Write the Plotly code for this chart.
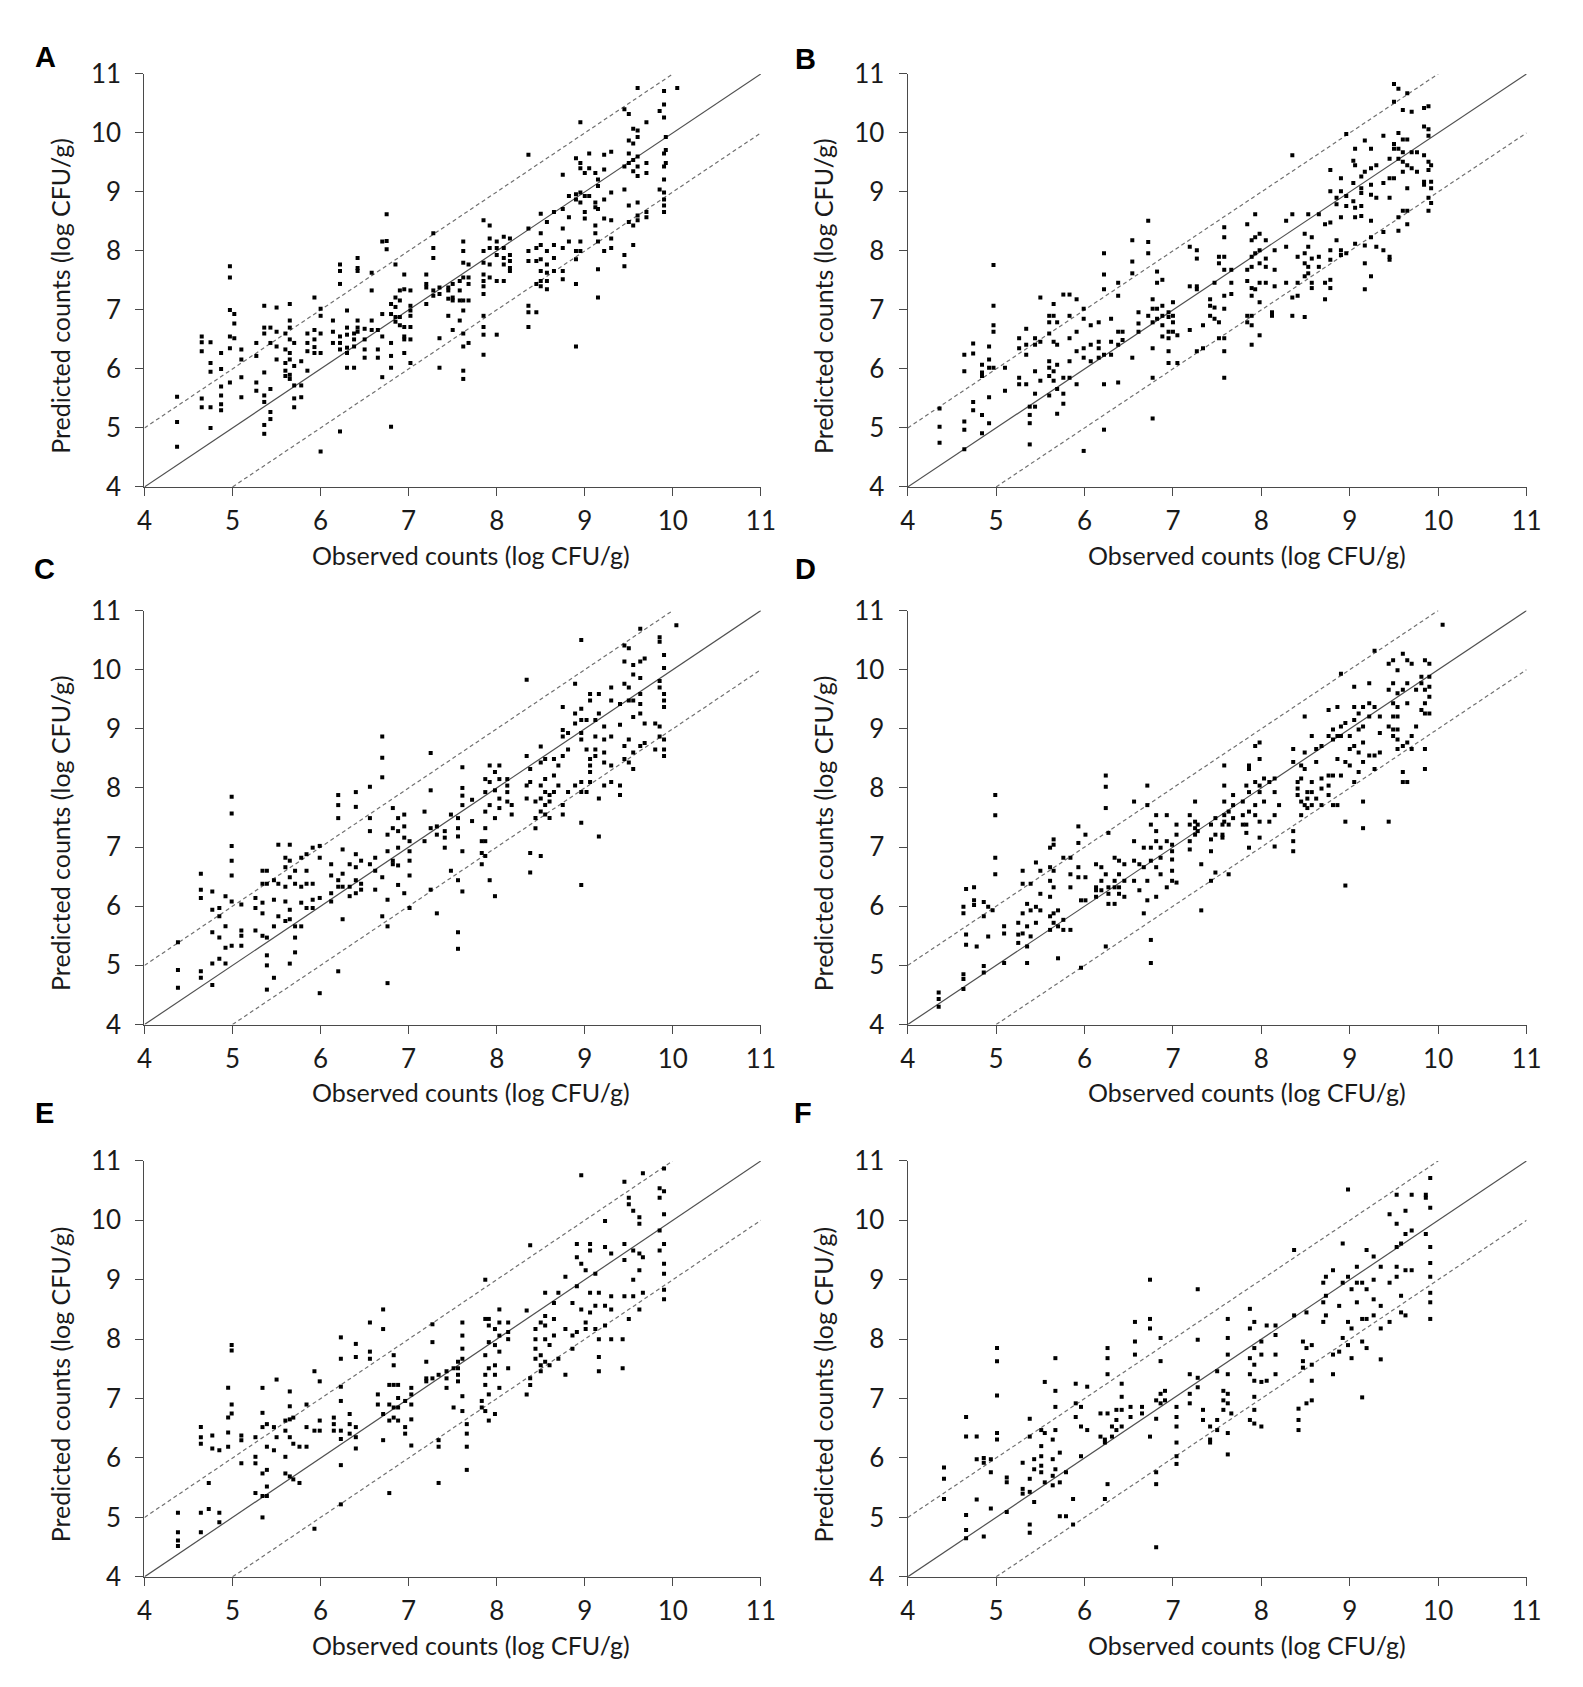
import plotly.graph_objects as go

# observed count (log CFU/g) -> predicted counts at that observed value, per panel
panel_a = [
    (4.37, [5.53, 5.1, 4.68]), (4.65, [6.55, 6.45, 6.3, 5.5, 5.35]),
    (4.75, [6.45, 6.1, 5.95, 5.35, 5.0]), (4.87, [6.27, 6.0, 5.7, 5.55, 5.4, 5.3]),
    (4.97, [7.74, 7.55, 7.0, 6.55, 6.35, 5.77]), (5.02, [6.93, 6.77, 6.52]),
    (5.1, [6.33, 6.16, 5.86, 5.52]), (5.27, [6.44, 6.22, 5.77, 5.63]),
    (5.36, [7.07, 6.7, 6.6, 5.94, 5.55, 5.44, 5.05, 4.9]), (5.43, [6.7, 6.44, 5.66, 5.27, 5.15]),
    (5.5, [7.04, 6.63, 6.38, 6.16]), (5.6, [6.6, 6.33, 6.1, 5.97, 5.88]),
    (5.65, [7.1, 6.82, 6.7, 6.5, 6.27, 6.16, 5.9, 5.83]), (5.7, [6.44, 6.05, 5.72, 5.5, 5.35]),
    (5.78, [6.13, 5.72, 5.52]), (5.85, [6.6, 6.44, 6.3, 5.97]),
    (5.93, [7.21, 6.66, 6.5, 6.37, 6.27]), (6.0, [7.02, 6.9, 6.6, 6.27, 4.6]),
    (6.14, [6.82, 6.63, 6.44]), (6.22, [7.77, 7.66, 7.44, 6.55, 6.44, 6.33, 4.94]),
    (6.3, [6.99, 6.7, 6.58, 6.36, 6.27, 6.02]), (6.38, [6.6, 6.5, 6.38, 6.02]),
    (6.42, [7.88, 7.71, 7.66, 6.82, 6.7, 6.63]), (6.5, [6.68, 6.5, 6.33, 6.19]),
    (6.58, [7.63, 7.33, 6.82, 6.66]), (6.65, [6.66, 6.33, 6.19]),
    (6.7, [8.16, 6.93, 6.55, 5.86]), (6.75, [8.62, 8.17, 8.03]),
    (6.8, [7.1, 6.93, 6.44, 6.22, 6.02, 5.02]), (6.85, [7.77, 7.21, 7.05, 6.88, 6.8]),
    (6.9, [7.33, 7.16, 6.88, 6.74]), (6.95, [7.6, 7.35, 6.71, 6.55, 6.5, 6.27]),
    (7.02, [7.33, 7.07, 6.99, 6.9, 6.71, 6.5, 6.1]), (7.2, [7.6, 7.44, 7.38, 7.1]),
    (7.28, [8.3, 8.05, 7.88, 7.33, 7.24]), (7.35, [7.38, 7.27, 6.52, 6.02]),
    (7.45, [7.38, 7.33, 7.19, 6.9]), (7.5, [7.44, 7.21, 7.16, 6.66]),
    (7.58, [7.49, 7.33, 7.16, 6.82]),
    (7.62, [8.16, 8.0, 7.8, 7.55, 7.16, 6.99, 6.6, 6.38, 5.97, 5.83]),
    (7.68, [7.77, 7.55, 7.44, 7.16, 6.44]),
    (7.85, [8.52, 8.0, 7.8, 7.6, 7.49, 7.4, 7.27, 6.9, 6.71, 6.58, 6.24]),
    (7.92, [8.43, 8.21, 8.05, 7.77, 7.55]), (8.0, [8.16, 8.05, 7.93, 7.49, 6.58]),
    (8.08, [8.24, 8.05, 7.88, 7.77, 7.49]), (8.15, [8.21, 7.93, 7.83, 7.71, 7.66]),
    (8.36, [9.63, 8.38, 8.0, 7.83, 7.07, 6.96, 6.71]), (8.45, [8.05, 7.83, 7.44, 6.96]),
    (8.5, [8.63, 8.3, 8.1, 7.86, 7.66, 7.49, 7.4]), (8.57, [8.49, 8.0, 7.77, 7.63, 7.49, 7.35]),
    (8.65, [8.66, 8.1, 7.88, 7.66]), (8.75, [9.29, 8.71, 8.38, 8.05, 7.66, 7.52]),
    (8.82, [8.93, 8.57, 8.16]), (8.9, [9.57, 8.96, 8.87, 8.0, 7.86, 7.44, 6.38]),
    (8.95, [10.18, 9.49, 9.4, 8.99, 8.82, 8.16, 8.0]), (9.0, [9.32, 8.93, 8.66, 8.55]),
    (9.05, [9.65, 9.4, 8.93]), (9.12, [9.32, 8.82, 8.74, 8.43, 8.3]),
    (9.15, [9.21, 9.1, 8.71, 8.16, 7.69, 7.21]), (9.22, [9.63, 9.38, 8.87, 8.55, 8.0]),
    (9.3, [9.68, 8.99, 8.52, 8.21, 8.05]), (9.45, [10.4, 9.43, 9.04, 7.93, 7.74]),
    (9.5, [10.32, 9.87, 9.65, 9.49, 8.77, 8.49]), (9.55, [10.07, 9.82, 9.54, 9.35, 8.43, 8.1]),
    (9.6, [10.76, 10.04, 9.93, 9.6, 9.43, 9.27, 8.82, 8.6, 8.52]),
    (9.7, [10.18, 9.49, 9.32, 8.66, 8.57]), (9.85, [10.37, 9.04]),
    (9.9, [10.71, 10.48, 10.26, 9.65, 9.43, 9.21, 8.99, 8.87, 8.77, 8.66]),
    (9.92, [9.93, 9.71, 9.49]), (10.05, [10.76]),
]

panel_b = [
    (4.36, [5.33, 5.02, 4.75]), (4.64, [6.24, 5.96, 5.11, 4.97, 4.64]),
    (4.74, [6.43, 6.26, 5.44, 5.3]), (4.84, [6.07, 5.94, 5.88, 5.22, 4.91]),
    (4.92, [6.38, 6.16, 6.02, 5.52, 5.08]), (4.97, [7.76, 7.07, 6.74, 6.63, 6.02]),
    (5.1, [6.02, 5.63]), (5.26, [6.52, 6.35, 5.85, 5.74]),
    (5.34, [6.68, 6.41, 6.24, 5.74]), (5.38, [5.36, 5.22, 5.08, 4.72]),
    (5.44, [6.52, 6.41, 5.96, 5.58, 5.36]), (5.5, [7.21, 6.46, 5.8]),
    (5.6, [6.9, 6.79, 6.6, 6.13, 6.02, 5.88, 5.55]), (5.65, [7.1, 6.9, 6.46, 5.96, 5.8]),
    (5.69, [6.79, 6.41, 6.07, 5.66, 5.24]), (5.76, [7.26, 5.85, 5.58, 5.41]),
    (5.83, [7.26, 6.9, 6.52, 6.13, 5.85]), (5.91, [7.18, 6.63, 6.3, 5.74]),
    (5.99, [7.02, 6.85, 6.35, 6.19, 4.61]), (6.07, [6.74, 6.41, 6.13]),
    (6.16, [6.79, 6.46, 6.35, 6.19]), (6.22, [7.96, 7.6, 7.35, 6.24, 5.74, 4.97]),
    (6.3, [6.85, 6.46, 6.24]), (6.38, [7.46, 7.24, 6.63, 6.41, 5.77]),
    (6.43, [6.63, 6.49]), (6.54, [8.18, 7.82, 7.62, 6.19]),
    (6.61, [6.96, 6.77, 6.63]), (6.72, [8.51, 8.15, 7.96, 6.9]),
    (6.77, [7.18, 7.02, 6.79, 6.35, 5.85, 5.16]), (6.82, [7.65, 7.46, 7.02, 6.85]),
    (6.88, [7.51, 7.07, 6.9, 6.74, 6.55]), (6.95, [6.96, 6.88, 6.63, 6.52, 6.3, 6.1]),
    (7.0, [7.13, 6.9, 6.79, 6.63]), (7.05, [6.57, 6.1]),
    (7.19, [8.07, 7.4, 6.66]), (7.27, [8.01, 7.87, 7.4, 7.35, 6.3]),
    (7.34, [6.74, 6.35]), (7.42, [7.18, 7.07, 6.9]),
    (7.47, [7.46, 7.04, 6.85]), (7.52, [7.9, 7.79, 6.79, 6.52]),
    (7.58, [8.4, 8.23, 7.9, 7.68, 7.24, 7.02, 6.52, 6.3, 5.85]), (7.66, [7.68, 7.46, 7.27]),
    (7.84, [8.45, 7.68, 7.49, 6.9, 6.79]),
    (7.89, [8.18, 7.9, 7.73, 7.37, 7.24, 6.9, 6.74, 6.41]),
    (7.93, [8.62, 8.23, 7.96, 7.35]), (7.98, [8.29, 8.01, 7.79, 7.46, 7.13, 6.57]),
    (8.05, [8.18, 7.87, 7.73, 7.46]), (8.12, [6.96, 6.9]),
    (8.15, [8.01, 7.68, 7.4]), (8.28, [8.51, 8.07, 7.46]),
    (8.35, [9.62, 8.62, 7.21, 6.9]), (8.41, [7.9, 7.46, 7.24]),
    (8.49, [8.29, 7.96, 7.79, 7.57, 6.88]), (8.53, [8.62, 8.07, 7.73, 7.62]),
    (8.57, [8.23, 7.87, 7.46, 7.37]), (8.65, [8.62, 7.9, 7.73]),
    (8.72, [8.45, 7.46, 7.18]), (8.78, [9.37, 9.01, 8.48, 8.01, 7.85, 7.51, 7.37]),
    (8.85, [8.9, 8.79, 8.18]), (8.9, [9.23, 9.01, 8.57, 8.01, 7.93]),
    (8.96, [9.98, 8.93, 8.76, 7.96]), (9.04, [9.53, 9.15, 8.84]),
    (9.06, [9.73, 9.45, 8.73, 8.57, 8.12]), (9.13, [9.26, 9.06, 8.98, 8.76, 8.59]),
    (9.17, [9.87, 9.34, 8.09, 7.79, 7.35]),
    (9.24, [9.73, 9.4, 9.12, 8.95, 8.51, 8.23, 7.57]), (9.3, [9.45, 8.9, 8.07]),
    (9.38, [9.95, 9.15, 8.32, 8.01]), (9.45, [9.56, 9.23, 8.9, 7.9, 7.85]),
    (9.5, [10.83, 10.53, 9.81, 9.73, 9.23]), (9.55, [10.75, 10.0, 9.73, 9.56, 8.57, 8.34]),
    (9.6, [10.39, 9.89, 9.67, 9.51, 9.34, 8.68]), (9.65, [10.67, 9.89, 9.45, 9.06, 8.68, 8.45]),
    (9.7, [10.36, 9.67, 9.4]), (9.76, [9.67, 9.34]),
    (9.84, [10.42, 10.11, 9.62, 9.17, 9.12]),
    (9.89, [10.45, 10.06, 9.95, 9.51, 9.37, 8.9, 8.68]), (9.92, [9.45, 9.17, 9.06, 8.81]),
]

panel_c = [
    (4.38, [5.39, 4.92, 4.62]), (4.64, [6.55, 6.28, 6.14, 4.9, 4.79]),
    (4.77, [6.25, 5.94, 5.56, 5.03, 4.67]), (4.85, [5.97, 5.83, 5.47, 5.11]),
    (4.92, [6.17, 5.66, 5.3, 5.03]), (4.99, [7.85, 7.57, 7.02, 6.77, 6.52, 6.08, 5.33]),
    (5.1, [6.03, 5.59, 5.5, 5.33]), (5.26, [6.14, 5.97, 5.59]),
    (5.34, [6.6, 6.38, 6.06, 5.88, 5.5]), (5.39, [6.6, 6.38, 5.47, 5.17, 5.0, 4.59]),
    (5.47, [6.44, 6.11, 5.66, 4.79]), (5.52, [7.04, 6.38, 5.83]),
    (5.6, [6.82, 6.66, 6.33, 6.08, 5.75]), (5.65, [7.04, 6.77, 6.49, 5.94, 5.78, 5.03]),
    (5.71, [6.6, 6.38, 5.66, 5.47, 5.22]), (5.78, [6.82, 6.33, 6.06, 5.66]),
    (5.84, [6.88, 6.6, 6.38, 5.97]), (5.91, [6.99, 6.38, 6.11, 5.97]),
    (5.99, [7.02, 6.82, 6.14, 4.53]), (6.12, [6.71, 6.52, 6.22, 6.08]),
    (6.2, [7.88, 7.71, 7.49, 6.44, 6.33, 4.9]), (6.25, [6.96, 6.55, 6.33, 5.78]),
    (6.33, [6.71, 6.33, 6.17]), (6.4, [7.93, 7.68, 6.88, 6.66, 6.44, 6.22]),
    (6.46, [6.77, 6.38, 6.28]), (6.56, [8.02, 7.49, 7.27, 6.71]),
    (6.62, [6.82, 6.6, 6.28]), (6.7, [8.87, 8.51, 8.18, 6.49, 5.83]),
    (6.76, [7.21, 6.93, 6.11, 5.66, 4.7]), (6.82, [7.66, 7.32, 6.77, 6.71]),
    (6.88, [7.49, 7.27, 6.99, 6.69, 6.36]), (6.95, [7.55, 7.35, 7.16, 6.22]),
    (7.01, [7.1, 6.93, 6.77, 6.52, 5.97]), (7.18, [7.6, 7.1]),
    (7.25, [8.59, 7.96, 7.32, 6.28]), (7.32, [7.35, 7.21, 5.88]),
    (7.41, [7.27, 7.16, 6.99]), (7.48, [7.55, 6.6]),
    (7.56, [7.49, 7.32, 7.18, 6.44, 5.56, 5.28]), (7.61, [8.35, 8.0, 7.87, 7.71, 6.93, 6.25]),
    (7.72, [7.8, 7.44]), (7.83, [7.1, 6.9, 6.71]),
    (7.87, [8.15, 7.93, 7.6, 7.32, 7.1, 6.85]), (7.92, [8.38, 8.1, 7.71, 6.44]),
    (7.98, [8.27, 7.96, 7.49, 6.17]), (8.03, [8.38, 8.15, 7.82, 7.66]),
    (8.12, [8.15, 8.04, 7.93, 7.77]), (8.17, [7.71, 7.55]),
    (8.34, [9.83, 8.54, 8.04, 7.82]), (8.38, [8.32, 8.1, 6.9, 6.57]),
    (8.44, [7.77, 7.49, 7.32]), (8.5, [8.7, 8.43, 8.04, 7.82, 7.6, 6.85]),
    (8.55, [8.49, 8.15, 7.93, 7.71, 7.55]), (8.6, [7.88, 7.77, 7.49]),
    (8.65, [8.49, 8.21, 7.93]), (8.7, [8.38, 8.04]),
    (8.75, [9.37, 8.98, 8.87, 8.54, 7.71, 7.55]), (8.81, [8.93, 8.65, 7.93]),
    (8.89, [9.76, 9.26, 9.09, 8.04]),
    (8.96, [10.5, 9.34, 9.15, 8.93, 8.82, 8.1, 7.93, 7.41, 6.36]),
    (9.02, [9.15, 8.65, 7.93]), (9.06, [9.59, 9.48, 8.49, 8.38, 8.27, 8.1]),
    (9.12, [9.15, 8.87, 8.65, 8.54]), (9.16, [9.59, 9.26, 7.82, 7.18]),
    (9.22, [9.04, 8.82, 8.6, 8.43, 8.04]), (9.3, [9.7, 9.48, 8.87, 8.38, 8.1]),
    (9.4, [9.42, 9.07, 8.04, 7.88]), (9.45, [10.41, 10.14, 9.76, 8.71, 8.49]),
    (9.5, [10.36, 9.7, 9.48, 8.82, 8.43]), (9.55, [10.08, 9.92, 9.48, 9.2, 8.6, 8.32]),
    (9.63, [10.69, 10.14, 9.86, 9.59, 9.42, 9.26, 8.71]), (9.68, [10.19, 9.09, 8.76]),
    (9.8, [9.09, 8.65]), (9.85, [10.55, 10.47, 9.81, 9.7, 9.04, 8.87]),
    (9.9, [10.25, 10.03, 9.59, 9.48, 9.37, 8.82, 8.65, 8.54]), (10.04, [10.75]),
]

panel_d = [
    (4.35, [4.54, 4.43, 4.3]), (4.63, [5.99, 5.88, 4.85, 4.77, 4.6]),
    (4.66, [6.29, 5.52, 5.35]), (4.75, [6.32, 6.1, 6.02]), (4.78, [5.32]),
    (4.86, [6.07, 5.83, 4.99, 4.88]), (4.91, [5.99, 5.49]), (4.96, [5.93]),
    (4.99, [7.88, 7.54, 6.82, 6.54]), (5.09, [5.66, 5.54, 5.04]),
    (5.25, [5.72, 5.52, 5.38]), (5.3, [6.6, 6.38, 5.88, 5.54]),
    (5.35, [6.04, 5.66, 5.32, 5.04]), (5.39, [6.38, 5.93, 5.49]),
    (5.45, [6.74, 5.99, 5.72]), (5.5, [6.6, 6.21, 5.93]),
    (5.61, [6.99, 6.66, 6.43, 6.16, 5.83, 5.6]), (5.65, [7.13, 7.04, 6.6, 6.32, 5.88, 5.72]),
    (5.7, [5.93, 5.66, 5.12]), (5.76, [6.82, 5.77, 5.6]),
    (5.84, [6.82, 6.54, 6.32, 5.6]), (5.93, [7.35, 7.07, 6.66, 6.49]),
    (5.96, [6.1, 4.96]), (6.01, [7.21, 6.49, 6.1]),
    (6.13, [6.71, 6.32, 6.27, 6.16]), (6.19, [6.66, 6.43, 6.27]),
    (6.24, [8.21, 8.02, 7.66, 6.54, 5.32]), (6.27, [7.24, 6.32, 6.21, 6.04]),
    (6.34, [6.82, 6.43, 6.32, 6.04]), (6.39, [6.77, 6.54, 6.32, 6.21]),
    (6.45, [6.71, 6.43, 6.16]), (6.56, [7.77, 7.1, 6.77, 6.43]),
    (6.62, [6.71, 6.27]), (6.67, [6.99, 6.66, 5.88]),
    (6.71, [8.04, 7.71, 6.43, 6.1]), (6.75, [7.38, 6.99, 6.77, 5.43, 5.04]),
    (6.81, [7.54, 7.27, 7.1, 6.66, 6.16]), (6.86, [6.99, 6.82, 6.54]),
    (6.93, [7.54, 7.1, 6.32]), (6.99, [7.04, 6.93, 6.79, 6.6, 6.43]),
    (7.04, [7.38, 7.21, 6.4]), (7.19, [7.54, 7.38, 7.1, 6.96]),
    (7.25, [7.77, 7.43, 7.32, 7.21]), (7.28, [7.38, 7.27]), (7.32, [6.71, 5.93]),
    (7.43, [7.38, 7.13, 6.93, 6.43]), (7.48, [7.49, 7.21, 6.57]),
    (7.56, [7.38, 7.21, 7.16]), (7.58, [8.38, 8.04, 7.77, 7.54, 7.43]),
    (7.63, [7.6, 7.38, 6.54]), (7.68, [7.88, 7.71, 7.49]),
    (7.79, [7.77, 7.54, 7.38]), (7.83, [8.04, 7.38, 7.24]),
    (7.86, [8.38, 8.32, 7.93, 7.6, 6.99]), (7.93, [8.71, 8.1, 7.71, 7.54]),
    (7.98, [8.77, 8.49, 8.04, 7.93, 7.43, 7.16]), (8.03, [8.16, 7.77]),
    (8.09, [8.1, 7.43]), (8.15, [8.16, 7.93, 7.54, 7.01]), (8.2, [7.71]),
    (8.36, [8.66, 8.44, 7.27, 7.1, 6.93]), (8.41, [8.1, 7.99, 7.88]),
    (8.45, [8.38, 8.16, 7.77, 7.54]), (8.49, [9.21, 8.6, 8.32, 7.71]),
    (8.52, [7.93, 7.82, 7.66]), (8.57, [8.88, 8.1, 7.93, 7.71]),
    (8.62, [8.66, 8.44, 7.82]), (8.68, [8.71, 8.16, 7.99, 7.71]),
    (8.76, [9.32, 8.88, 8.21, 8.04, 7.88]), (8.81, [8.99, 8.82, 8.21, 7.71]),
    (8.86, [9.37, 8.88, 8.49, 7.71]), (8.9, [9.93, 9.04, 8.88, 8.21]),
    (8.95, [9.1, 8.44, 7.43, 6.35]), (9.0, [8.88, 8.66, 8.38]),
    (9.05, [9.71, 9.37, 9.15, 8.71, 8.1]), (9.1, [9.26, 8.99, 8.6, 8.27]),
    (9.15, [9.37, 9.04, 8.77, 8.44, 7.77, 7.32]), (9.22, [9.77, 9.43, 9.21, 8.55]),
    (9.28, [10.32, 9.37, 8.55, 8.32]), (9.34, [9.21, 8.93, 8.6]),
    (9.44, [10.1, 9.66, 9.04, 7.43]), (9.49, [10.16, 9.77, 9.43, 9.21, 8.99, 8.88]),
    (9.54, [9.99, 9.6, 9.37, 9.21, 8.99, 8.82, 8.66]), (9.6, [10.27, 9.66, 8.71, 8.27, 8.1]),
    (9.65, [10.16, 9.77, 9.43, 8.77, 8.1]), (9.7, [10.1, 8.88, 8.66]),
    (9.75, [9.66, 9.04]), (9.81, [9.88, 9.77, 9.32]),
    (9.85, [10.16, 9.66, 9.43, 9.26, 8.66, 8.32]), (9.9, [10.1, 9.88, 9.71, 9.54, 9.26]),
    (10.05, [10.76]),
]

panel_e = [
    (4.38, [5.08, 4.75, 4.61, 4.52]), (4.64, [6.52, 6.35, 6.24, 5.08, 4.75]),
    (4.73, [5.58, 5.14]), (4.77, [6.38, 6.16]), (4.85, [6.13, 5.08, 4.92]),
    (4.95, [7.18, 6.68, 6.43, 6.19]), (4.99, [7.9, 7.81, 6.9, 6.75]),
    (5.1, [6.38, 6.3, 5.91]), (5.26, [6.35, 6.02, 5.91, 5.41]),
    (5.34, [7.18, 6.76, 6.52, 5.74, 5.36, 5.0]), (5.39, [6.57, 6.19, 5.8, 5.52, 5.36]),
    (5.47, [6.52, 6.13]), (5.5, [7.32, 6.35]), (5.6, [6.63, 6.46, 6.02, 5.74]),
    (5.65, [7.12, 6.87, 6.65, 6.35, 5.69]), (5.69, [6.68, 6.24, 5.64]),
    (5.76, [6.19, 5.58]), (5.84, [6.9, 6.52, 6.19]), (5.93, [7.46, 6.46, 4.81]),
    (5.99, [7.29, 6.63, 6.46]), (6.15, [6.68, 6.57, 6.46]),
    (6.23, [8.03, 7.67, 7.2, 6.96, 6.46, 6.32, 5.88, 5.22]), (6.33, [6.74, 6.57, 6.41]),
    (6.4, [7.92, 7.7, 6.52, 6.35, 6.16]), (6.56, [8.28, 7.79, 7.67]),
    (6.65, [7.07, 6.9]), (6.71, [8.5, 8.17, 6.74, 6.3]),
    (6.78, [7.23, 6.9, 6.63, 5.41]), (6.83, [7.73, 7.56, 7.23, 6.85, 6.68]),
    (6.88, [7.23, 7.01, 6.85, 6.63]), (6.96, [6.96, 6.52, 6.41]),
    (7.03, [7.18, 7.07, 6.9, 6.65, 6.21]), (7.2, [7.62, 7.34, 7.29]),
    (7.27, [8.25, 7.95, 7.34]), (7.34, [7.4, 6.3, 6.19, 5.58]),
    (7.43, [7.46, 7.34, 7.18]), (7.51, [7.51, 6.85]), (7.56, [7.62, 7.51, 7.4, 7.29]),
    (7.61, [8.28, 8.06, 7.84, 7.67, 7.04, 6.79]), (7.66, [6.57, 6.41, 6.19, 5.8]),
    (7.83, [6.96, 6.85]), (7.87, [9.0, 8.34, 7.73, 7.4, 7.23, 6.79]),
    (7.91, [8.34, 8.23, 7.95, 7.51, 7.07, 6.63]), (7.98, [8.17, 7.9, 7.56, 7.4, 6.74]),
    (8.03, [8.5, 8.28, 8.06, 7.79, 7.18]), (8.13, [8.28, 8.12, 8.0, 7.51]),
    (8.34, [8.48, 7.07]), (8.38, [9.58, 7.34, 7.23]), (8.44, [8.17, 8.0, 7.84, 7.67]),
    (8.5, [8.28, 7.73, 7.56, 7.46]), (8.55, [8.78, 8.39, 8.23, 8.0, 7.62]),
    (8.6, [7.9, 7.56]), (8.65, [8.61, 8.34, 8.06]), (8.7, [8.78, 7.67]),
    (8.78, [9.05, 8.17, 7.4]), (8.86, [8.61, 8.06, 7.84]),
    (8.91, [9.6, 9.38, 8.89, 8.12]), (8.96, [10.76, 9.27, 8.5]),
    (9.01, [9.16, 8.28, 8.17]), (9.06, [9.6, 9.49, 8.78, 8.45]),
    (9.12, [9.1, 8.56, 8.17]), (9.16, [8.78, 8.0, 7.7, 7.46]),
    (9.23, [9.99, 9.55, 8.56, 8.23]), (9.3, [9.44, 8.72, 8.5, 8.0]),
    (9.43, [8.0, 7.51]), (9.45, [10.65, 9.6, 9.33, 8.72]), (9.5, [10.38, 10.27, 8.34]),
    (9.55, [10.16, 9.49, 9.0, 8.72]), (9.62, [10.05, 9.94, 9.44, 9.16, 8.5]),
    (9.66, [10.79, 9.38, 8.78]), (9.85, [10.54, 10.38, 9.83, 9.49]),
    (9.9, [10.87, 10.49, 10.1, 9.6, 9.27, 9.1, 8.83, 8.67]),
]

panel_f = [
    (4.41, [5.84, 5.65, 5.31]), (4.66, [6.69, 6.36, 5.04, 4.79, 4.65]),
    (4.78, [6.36, 5.98, 5.3]), (4.86, [6.0, 5.92, 4.68]), (4.94, [5.98, 5.76, 5.15]),
    (5.01, [7.85, 7.63, 7.05, 6.42, 6.31]), (5.12, [5.67, 5.59, 5.09]),
    (5.3, [5.92, 5.48, 5.4]), (5.38, [6.66, 6.36, 5.65, 5.43, 4.88, 4.74]),
    (5.43, [5.98, 5.81, 5.26]), (5.51, [6.47, 6.2, 6.03, 5.87, 5.76]),
    (5.55, [7.28, 6.42, 5.59]), (5.64, [6.31, 5.98, 5.7, 5.54]),
    (5.67, [7.68, 7.13, 6.86, 6.47, 5.81]), (5.72, [6.09, 5.59, 5.02]),
    (5.79, [5.76, 5.02]), (5.87, [5.31, 4.88]), (5.9, [7.25, 6.92, 6.69]),
    (5.96, [6.86, 6.53, 6.03]), (6.03, [7.2, 6.47]), (6.18, [6.75, 6.36]),
    (6.23, [6.31, 6.26, 5.31]), (6.26, [7.85, 7.68, 7.41, 6.75, 5.56]),
    (6.31, [6.53, 6.36]), (6.36, [6.81, 6.64, 6.47]), (6.42, [7.25, 7.03, 6.81, 6.53]),
    (6.52, [6.86, 6.69]), (6.57, [8.29, 7.96, 7.74]), (6.65, [6.86, 6.75]),
    (6.74, [9.0, 8.34, 8.18, 6.36]), (6.81, [6.97, 6.66, 5.76, 5.56, 4.5]),
    (6.86, [8.02, 7.63, 7.08, 6.92]), (6.91, [7.13, 6.97]),
    (7.04, [6.86, 6.69, 6.53, 6.26, 6.03, 5.9]), (7.19, [7.41, 7.08, 6.92]),
    (7.28, [8.84, 7.99, 7.35, 7.19]), (7.34, [6.81, 6.64]), (7.42, [6.53, 6.31, 6.26]),
    (7.5, [7.46, 6.64, 6.47]), (7.57, [7.13, 6.97, 6.81]),
    (7.62, [8.34, 8.02, 7.74, 7.41, 7.08, 6.92, 6.42, 6.06]), (7.66, [6.75]),
    (7.87, [8.51, 8.18, 7.68, 7.41, 6.64]), (7.92, [8.29, 7.85, 7.57, 7.3, 7.03, 6.81, 6.58]),
    (8.0, [7.96, 7.74, 7.28, 6.53]), (8.06, [8.23, 7.3]), (8.16, [8.23, 8.07, 7.74, 7.41]),
    (8.37, [9.5, 8.4]), (8.42, [6.83, 6.64, 6.47]), (8.47, [7.96, 7.63, 7.52]),
    (8.51, [8.45, 7.85, 6.92]), (8.57, [7.9, 7.57, 7.3, 6.97]),
    (8.7, [8.95, 8.62, 8.29]), (8.73, [9.05, 8.73, 8.4]), (8.81, [9.16, 7.74, 7.41]),
    (8.88, [8.56, 7.79]), (8.92, [9.61, 8.95, 8.02]), (8.98, [10.52, 9.05, 8.29, 7.9]),
    (9.02, [8.84, 8.18, 7.68]), (9.08, [9.22, 8.95, 8.62]),
    (9.14, [8.95, 8.34, 7.96, 7.02]), (9.19, [9.5, 8.84, 8.34, 7.85]),
    (9.27, [9.39, 9.0, 8.67, 8.4]), (9.35, [9.22, 8.56, 8.18, 7.66]),
    (9.45, [10.1, 8.95, 8.29]), (9.53, [10.43, 9.94, 9.55, 9.22, 9.05]),
    (9.58, [9.61, 8.73, 8.45]), (9.63, [10.16, 9.77, 9.16, 8.4]),
    (9.7, [10.43, 9.83, 9.16]), (9.86, [10.43, 10.38, 9.77]),
    (9.91, [10.71, 10.21, 9.55, 9.28, 9.05, 8.78, 8.62, 8.34]),
]

panels = [panel_a, panel_b, panel_c, panel_d, panel_e, panel_f]
panel_letters = ["A", "B", "C", "D", "E", "F"]
axis_range = [4, 11]
axis_ticks = list(range(4, 12))
ref_offsets = [0, 1, -1]   # 1:1 line and +/- 1 log bands

W, H = 1583, 1687
col_px = [(138.5, 764), (913, 1541)]
row_px = [(58, 479), (605, 1027), (1166, 1590)]
letter_px = [(38, 41), (809, 43), (37, 563), (809, 563), (37, 1117), (807, 1117)]
xtitle_cx = [470, 1257]

FONT = "Lato, Open Sans, sans-serif"
AXC = "#4a4a4a"
TXT = "#1a1a1a"

fig = go.Figure()
layout = dict(width=W, height=H, margin=dict(l=0, r=0, t=0, b=0),
              paper_bgcolor="white", plot_bgcolor="white", showlegend=False)
annotations = []


def note(text, px, py, size, family=FONT, angle=0, color=TXT):
    annotations.append(dict(text=text, xref="paper", yref="paper", x=px / W, y=1 - py / H,
                            xanchor="center", yanchor="middle", textangle=angle,
                            showarrow=False, font=dict(family=family, size=size, color=color)))


for i, data in enumerate(panels):
    r, c = divmod(i, 2)
    n = "" if i == 0 else str(i + 1)
    x0, x1 = col_px[c]
    y0, y1 = row_px[r]
    xs = [o for o, preds in data for _ in preds]
    ys = [p for _, preds in data for p in preds]

    for off in ref_offsets:
        lx = [max(axis_range[0], axis_range[0] - off), min(axis_range[1], axis_range[1] - off)]
        fig.add_trace(go.Scatter(
            x=lx, y=[v + off for v in lx], mode="lines", xaxis="x" + n, yaxis="y" + n,
            line=dict(color="#505050" if off == 0 else "#707070", width=1.2,
                      dash="solid" if off == 0 else "4px,3px"),
            hoverinfo="skip"))

    fig.add_trace(go.Scatter(
        x=xs, y=ys, mode="markers", xaxis="x" + n, yaxis="y" + n,
        marker=dict(symbol="square", size=4, color="black", line=dict(width=0))))

    common = dict(range=axis_range, tickvals=axis_ticks, ticks="outside", ticklen=8,
                  tickwidth=1.4, tickcolor=AXC, showline=True, linecolor=AXC,
                  linewidth=1.4, showgrid=False, zeroline=False,
                  tickfont=dict(family=FONT, size=26, color=TXT))
    layout["xaxis" + n] = dict(common, domain=[x0 / W, x1 / W], anchor="y" + n,
                               ticklabelstandoff=3)
    layout["yaxis" + n] = dict(common, domain=[1 - y1 / H, 1 - y0 / H], anchor="x" + n,
                               ticklabelstandoff=9)

    note("Observed counts (log CFU/g)", xtitle_cx[c], y1 + 69, 25)
    note("Predicted counts (log CFU/g)", x0 - 86, (y0 + y1) / 2 + 16, 25, angle=-90)
    lx_, ly_ = letter_px[i]
    note("<b>%s</b>" % panel_letters[i], lx_, ly_, 29,
         family="Liberation Sans, Arial, sans-serif", color="black")

layout["annotations"] = annotations
fig.update_layout(**layout)
fig.write_html("out.html", config={"displayModeBar": False},
               post_script="document.body.style.margin='0';document.body.style.overflow='hidden';")
